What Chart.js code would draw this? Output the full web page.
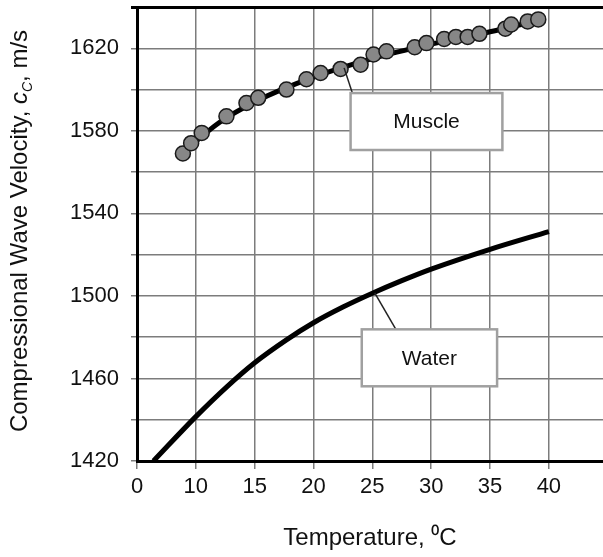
<!DOCTYPE html>
<html><head><meta charset="utf-8">
<script src="https://cdn.jsdelivr.net/npm/chart.js@4/dist/chart.umd.min.js"></script>
<style>html,body{margin:0;padding:0;background:#fff;overflow:hidden}</style>
</head><body>
<canvas id="c" width="603" height="557" style="display:block;width:603px;height:557px"></canvas>
<script>
// Data
const muscleT = [8.9, 9.6, 10.5, 12.6, 14.3, 15.3, 17.7, 19.4, 20.6, 22.3, 24.0, 25.1, 26.2, 28.6, 29.6, 31.1, 32.1, 33.1, 34.1, 36.3, 36.8, 38.2, 39.1];
const muscleV = [1569, 1574, 1579, 1587, 1593.5, 1596, 1600, 1605, 1608, 1610, 1612, 1617, 1618.5, 1620.5, 1622.5, 1624.5, 1625.5, 1625.5, 1627, 1629.5, 1631.5, 1633, 1634];
const muscleFitT = [8.9, 12, 15, 20, 25, 30, 35, 39.1];
const muscleFitV = [1569.5, 1584, 1594, 1606, 1615, 1622, 1628, 1633.5];
const waterT = [6.4, 10, 12.7, 15, 17.7, 20, 22.5, 25, 27.5, 30, 35, 40];
const waterV = [1420, 1441.5, 1456.3, 1467.6, 1478.7, 1487, 1494.6, 1501.3, 1507.4, 1513, 1522.6, 1531.2];
const xTickValues = [5, 10, 15, 20, 25, 30, 35, 40];
const xTickLabels = ['0', '10', '15', '20', '25', '30', '35', '40'];
const yTickValues = [1420, 1440, 1460, 1480, 1500, 1520, 1540, 1560, 1580, 1600, 1620, 1640];
const yTickLabels = ['1420', '', '1460', '', '1500', '', '1540', '', '1580', '', '1620', ''];

const FONT = '"Liberation Sans", Arial, Helvetica, sans-serif';
const pts = (xs, ys) => xs.map((v, i) => ({x: v, y: ys[i]}));

const annot = {
  id: 'annot',
  afterDatasetsDraw(chart) {
    const {ctx, scales: {x, y}} = chart;
    const px = v => x.getPixelForValue(v), py = v => y.getPixelForValue(v);
    const label = (text, box, from, to) => {
      ctx.save();
      ctx.strokeStyle = '#222'; ctx.lineWidth = 1.5;
      ctx.beginPath(); ctx.moveTo(px(from[0]), py(from[1])); ctx.lineTo(px(to[0]), py(to[1])); ctx.stroke();
      const x0 = px(box[0]), x1 = px(box[1]), y0 = py(box[2]), y1 = py(box[3]);
      ctx.fillStyle = '#fff'; ctx.fillRect(x0, y0, x1 - x0, y1 - y0);
      ctx.strokeStyle = '#a0a0a0'; ctx.lineWidth = 2.5; ctx.strokeRect(x0, y0, x1 - x0, y1 - y0);
      ctx.fillStyle = '#111'; ctx.font = '21px ' + FONT; ctx.textAlign = 'center'; ctx.textBaseline = 'middle';
      ctx.fillText(text, (x0 + x1) / 2, (y0 + y1) / 2 + 1);
      ctx.restore();
    };
    label('Muscle', [23.15, 36.05, 1598.3, 1570.7], [22.6, 1610.5], [23.3, 1598.3]);
    label('Water', [24.1, 35.6, 1483.8, 1456.2], [25.2, 1501.5], [27.0, 1483.8]);
  },
  afterDraw(chart) {
    const {ctx, chartArea} = chart;
    ctx.save();
    ctx.translate(27, (chartArea.top + chartArea.bottom) / 2 - 3);
    ctx.rotate(-Math.PI / 2);
    ctx.fillStyle = '#111';
    ctx.textBaseline = 'alphabetic';
    const parts = [
      {t: 'Compressional Wave Velocity, ', f: '24px ' + FONT, dy: 0},
      {t: 'c', f: 'italic 24px ' + FONT, dy: 0},
      {t: 'C', f: 'italic 14px ' + FONT, dy: 5},
      {t: ', m/s', f: '24px ' + FONT, dy: 0}
    ];
    let total = 0;
    parts.forEach(p => { ctx.font = p.f; p.w = ctx.measureText(p.t).width; total += p.w; });
    let cx = -total / 2;
    ctx.textAlign = 'left';
    parts.forEach(p => { ctx.font = p.f; ctx.fillText(p.t, cx, p.dy); cx += p.w; });
    ctx.restore();
  }
};

new Chart(document.getElementById('c'), {
  data: {
    datasets: [
      {type: 'scatter', data: pts(muscleT, muscleV), pointRadius: 7.5, pointBackgroundColor: '#878787', pointBorderColor: '#1a1a1a', pointBorderWidth: 1.5, order: 0},
      {type: 'line', data: pts(muscleFitT, muscleFitV), borderColor: '#000', borderWidth: 5, pointRadius: 0, cubicInterpolationMode: 'monotone', fill: false, order: 1},
      {type: 'line', data: pts(waterT, waterV), borderColor: '#000', borderWidth: 5, pointRadius: 0, cubicInterpolationMode: 'monotone', fill: false, order: 1}
    ]
  },
  options: {
    responsive: false,
    animation: false,
    layout: {autoPadding: false, padding: {top: 7, right: 0, bottom: 0, left: 0}},
    plugins: {legend: {display: false}, tooltip: {enabled: false}},
    scales: {
      x: {
        type: 'linear', min: 5, max: 44.6,
        afterBuildTicks: s => { s.ticks = xTickValues.map(v => ({value: v})); },
        afterFit: s => { s.height = 96; s.paddingLeft = 0; s.paddingRight = 0; },
        ticks: {callback: v => xTickLabels[xTickValues.indexOf(v)], font: {family: FONT, size: 22}, color: '#111', padding: 5, maxRotation: 0, autoSkip: false},
        grid: {color: '#7c7c7c', lineWidth: 1.5, tickLength: 8},
        border: {color: '#000', width: 3},
        title: {display: true, text: 'Temperature, \u2070C', font: {family: FONT, size: 24}, color: '#111', padding: {top: 0, bottom: 4}}
      },
      y: {
        type: 'linear', min: 1420, max: 1640,
        afterBuildTicks: s => { s.ticks = yTickValues.map(v => ({value: v})); },
        afterFit: s => { s.width = 137; s.paddingTop = 0; s.paddingBottom = 0; },
        ticks: {callback: v => yTickLabels[yTickValues.indexOf(v)], font: {family: FONT, size: 22}, color: '#111', padding: 12, autoSkip: false},
        grid: {
          color: c => (c.tick && c.tick.value === 1640) ? '#000' : '#7c7c7c',
          lineWidth: c => (c.tick && c.tick.value === 1640) ? 3 : 1.5,
          tickLength: 6
        },
        border: {color: '#000', width: 3}
      }
    }
  },
  plugins: [annot]
});
</script>
</body></html>
